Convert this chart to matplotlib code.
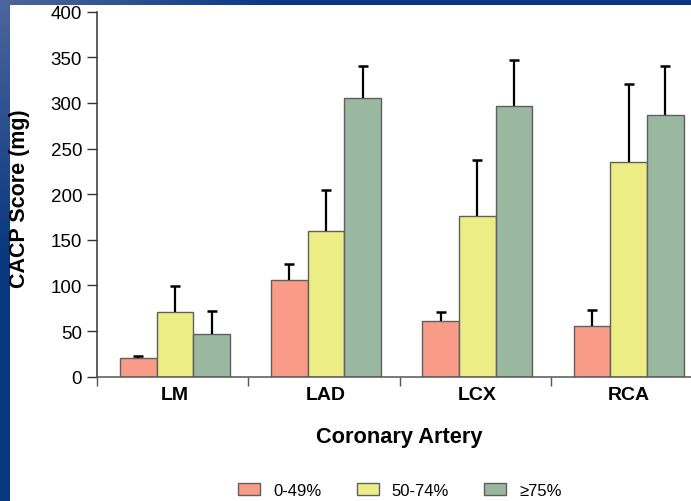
import numpy as np
import matplotlib
matplotlib.use('Agg')
import matplotlib.pyplot as plt
from matplotlib.patches import Patch

plt.rcParams['font.family'] = ['Liberation Sans', 'DejaVu Sans']

# data
arteri = ['LM', 'LAD', 'LCX', 'RCA']
kelompok = ['0-49%', '50-74%', '\u226575%']
nilai_049 = [20, 106.5, 61.5, 56]
nilai_5074 = [70.5, 160, 176, 235.5]
nilai_75 = [46.5, 305.5, 297, 287]
sd_049 = [3, 16.5, 9.5, 17.5]
sd_5074 = [29, 45, 61, 85]
sd_75 = [25, 35.5, 50, 53]

warna = ['#F89C88', '#EDED85', '#9AB7A0']

fig = plt.figure(figsize=(6.91, 5.02), dpi=100)
fig.patch.set_facecolor('white')

# blue slide frame (top and left), lighter at the top-left corner
terang = np.array([0.30, 0.40, 0.62])
gelap = np.array([0.04, 0.22, 0.50])
t = np.clip(np.linspace(0, 1, 502) / 0.5, 0, 1)[:, None]
kiri = (terang * (1 - t) + gelap * t)[:, None, :].repeat(10, axis=1)
fig.figimage(kiri, xo=0, yo=0, origin='upper', zorder=0)
t2 = np.clip(np.linspace(0, 1, 691) / 0.4, 0, 1)[:, None]
atas_strip = (terang * (1 - t2) + gelap * t2)[None, :, :].repeat(6, axis=0)
fig.figimage(atas_strip, xo=0, yo=502 - 6, origin='upper', zorder=0)

ax = fig.add_axes([97/691, 124.3/502, 605/691, 365/502])
ax.set_facecolor('none')

lebar = 0.2426
geser = 0.015
pos = np.arange(len(arteri)) + 0.5 + geser
semua_nilai = [nilai_049, nilai_5074, nilai_75]
semua_sd = [sd_049, sd_5074, sd_75]

for i in range(3):
    xx = pos + (i - 1) * lebar
    ax.bar(xx, semua_nilai[i], width=lebar, color=warna[i],
           edgecolor='#5f5f5f', linewidth=1.0, zorder=2)
    atas = np.array(semua_nilai[i]) + np.array(semua_sd[i])
    ax.vlines(xx, semua_nilai[i], atas, color='black', linewidth=1.6, zorder=3)
    ax.plot(xx, atas, linestyle='none', marker='_', markersize=7.8,
            markeredgewidth=1.8, color='black', zorder=3)

ax.set_xlim(0, 4)
ax.set_ylim(0, 400)
ax.set_yticks(np.arange(0, 401, 50))
ax.tick_params(axis='y', direction='out', length=7.2, width=1.0, pad=3.6,
               labelsize=13.5, color='#333333')

ax.set_xticks(np.arange(0, 5))
ax.set_xticklabels([])
ax.tick_params(axis='x', which='major', direction='out', length=6.5, width=1.0,
               color='#555555')
ax.set_xticks(pos, minor=True)
ax.set_xticklabels(arteri, minor=True, fontsize=14, fontweight='bold')
ax.tick_params(axis='x', which='minor', length=0, pad=7)

for s in ['top', 'right']:
    ax.spines[s].set_visible(False)
ax.spines['left'].set_color('#333333')
ax.spines['bottom'].set_color('#555555')
ax.spines['left'].set_linewidth(1.1)
ax.spines['bottom'].set_linewidth(1.1)

fig.text(20/691, 1 - 199/502, 'CACP Score (mg)', rotation=90, ha='center',
         va='center', fontsize=15.5, fontweight='bold')
fig.text(399.7/691, 1 - 438/502, 'Coronary Artery', ha='center', va='center',
         fontsize=15.7, fontweight='bold')

handles = [Patch(facecolor=warna[i], edgecolor='#5f5f5f', linewidth=1.0)
           for i in range(3)]
fig.legend(handles, kelompok, loc='center', bbox_to_anchor=(400/691, 1 - 491.5/502),
           ncol=3, frameon=False, fontsize=12, handlelength=1.32,
           handleheight=0.72, handletextpad=0.78, columnspacing=2.1,
           borderpad=0)

fig.savefig('out.png', dpi=100)
